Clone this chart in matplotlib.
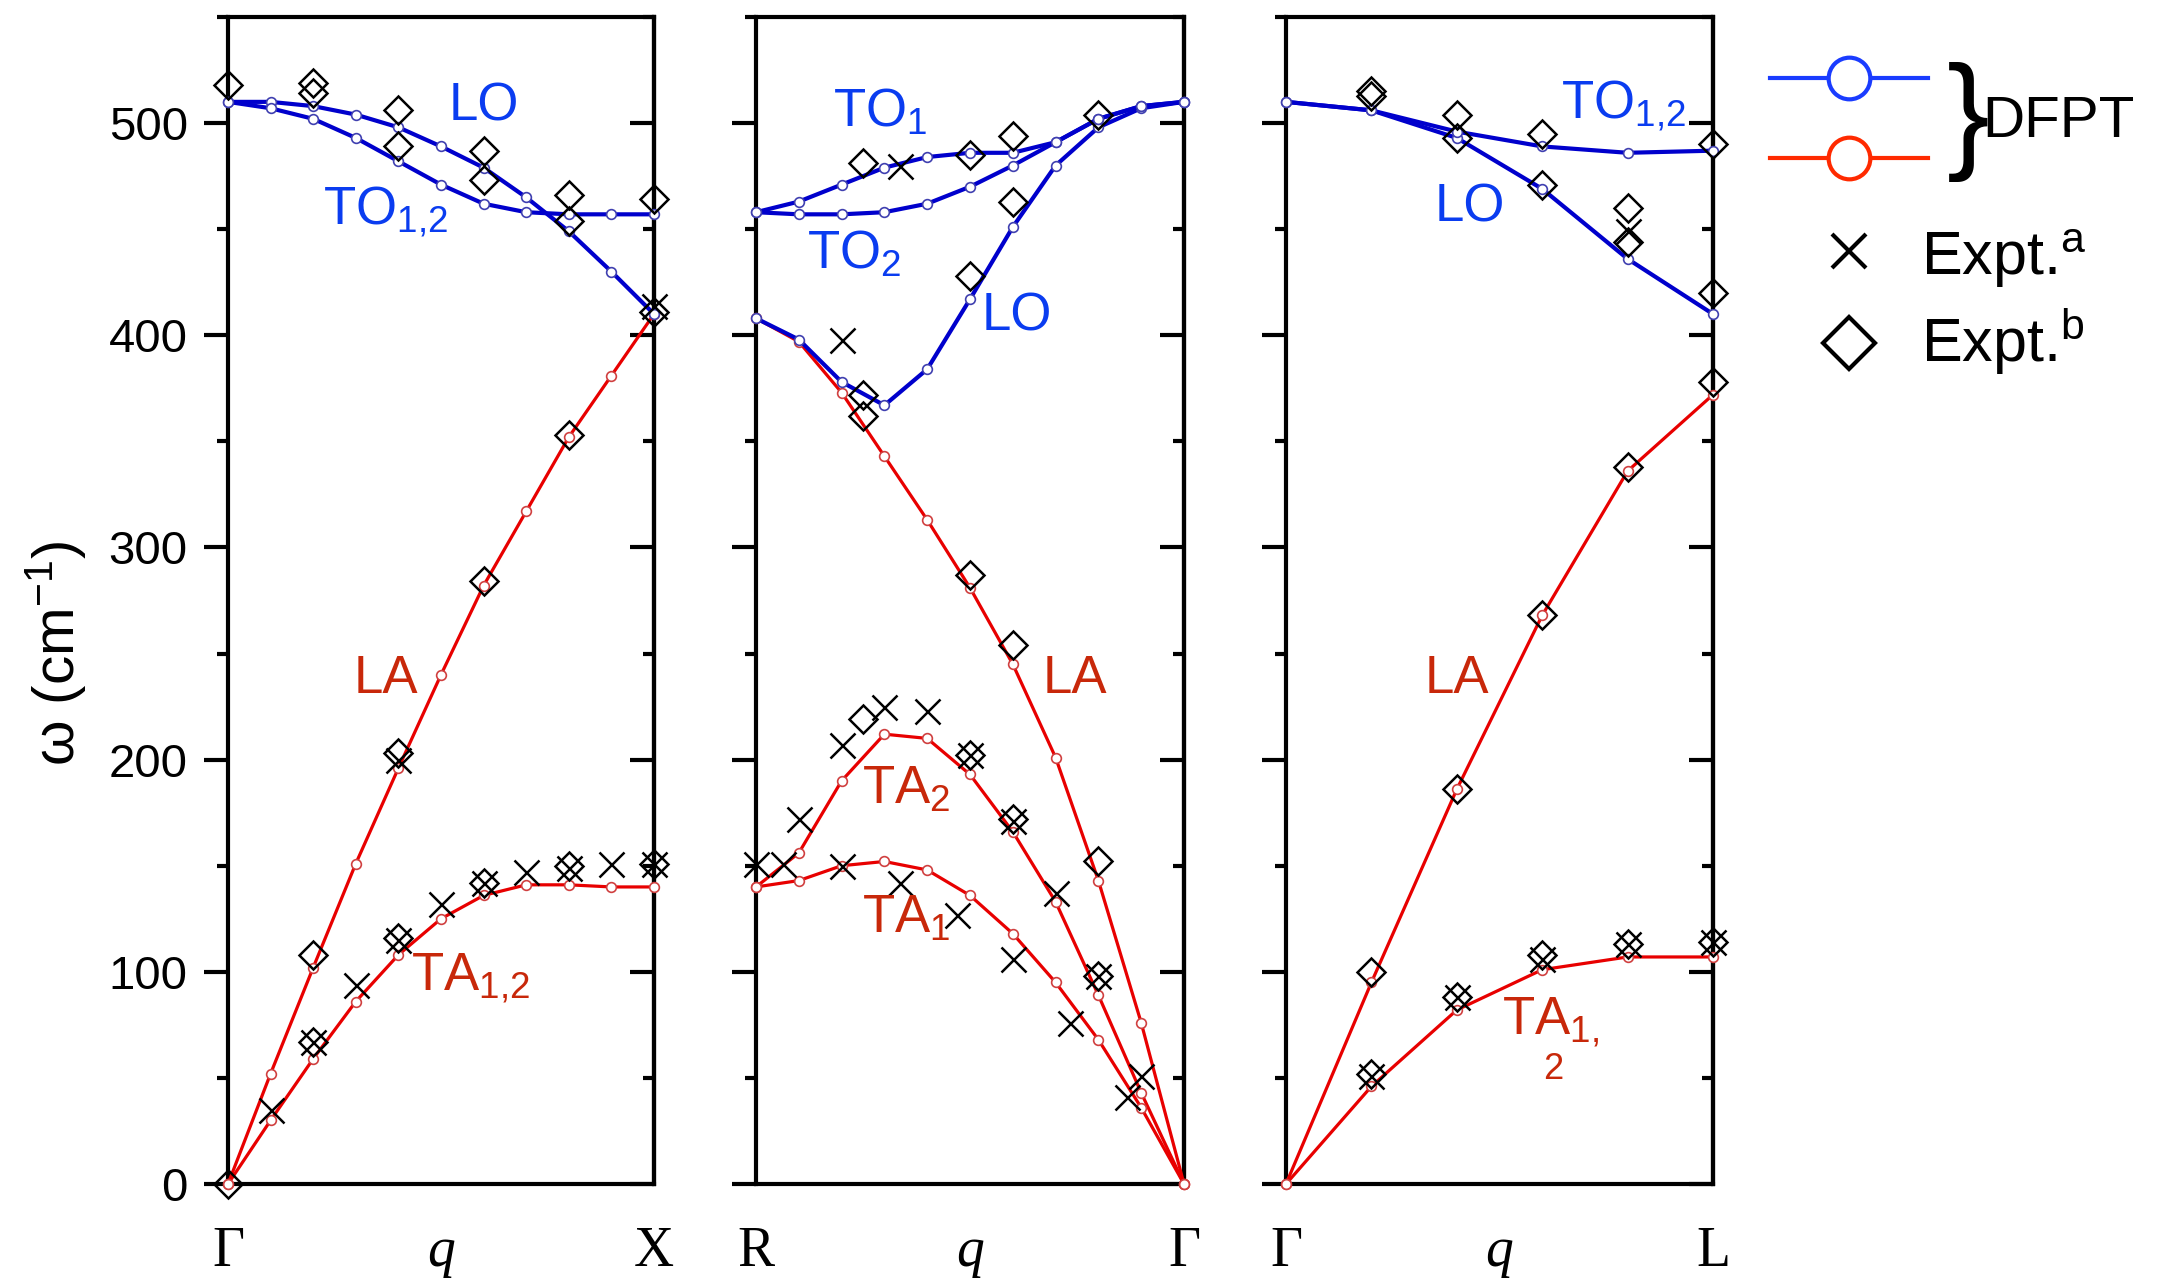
import numpy as np
import matplotlib
matplotlib.use('Agg')
import matplotlib.pyplot as plt
from matplotlib.ticker import MultipleLocator

plt.rcParams['font.family'] = ['Liberation Sans', 'DejaVu Sans']
plt.rcParams['mathtext.fontset'] = 'custom'
plt.rcParams['mathtext.rm'] = 'Liberation Sans'
plt.rcParams['mathtext.it'] = 'Liberation Sans:italic'

# q positions along each path (fraction of the segment)
q11 = [0.0, 0.1, 0.2, 0.3, 0.4, 0.5, 0.6, 0.7, 0.8, 0.9, 1.0]
q6 = [0.0, 0.2, 0.4, 0.6, 0.8, 1.0]

# Gamma -> X (DFPT)
gx_LO = [510, 510, 508, 504, 498, 489, 479, 465, 449, 430, 410]
gx_TO = [510, 507, 502, 493, 482, 471, 462, 458, 457, 457, 457]
gx_LA = [0, 52, 102, 151, 196, 240, 282, 317, 352, 381, 410]
gx_TA = [0, 30, 59, 86, 108, 125, 136, 141, 141, 140, 140]
# Gamma -> X (experiment)
gx_a_q = [0.1, 0.2, 0.3, 0.4, 0.5, 0.6, 0.7, 0.8, 0.9, 1.0, 0.4, 1.0]
gx_a_w = [35, 67, 94, 115, 132, 142, 147, 149, 151, 151, 200, 414]
gx_b_q = [0.0, 0.2, 0.2, 0.4, 0.4, 0.6, 0.6, 0.8, 1.0, 0.8, 0.0, 0.2, 0.2, 0.4, 0.4, 0.6, 0.6, 0.8, 0.8, 1.0, 1.0]
gx_b_w = [0, 108, 67, 203, 116, 284, 142, 150, 151, 353, 518, 519, 514, 506, 489, 487, 473, 466, 454, 464, 411]

# R -> Gamma (DFPT)
rg_TO1 = [458, 463, 471, 479, 484, 486, 486, 491, 502, 508, 510]
rg_TO2 = [458, 457, 457, 458, 462, 470, 480, 491, 502, 508, 510]
rg_LO = [408, 398, 378, 367, 384, 417, 451, 480, 498, 507, 510]
rg_LA = [408, 397, 373, 343, 313, 281, 245, 201, 143, 76, 0]
rg_TA2 = [140, 156, 190, 212, 210, 193, 166, 133, 89, 43, 0]
rg_TA1 = [140, 143, 150, 152, 148, 136, 118, 95, 68, 36, 0]
# R -> Gamma (experiment)
rg_a_q = [0.2, 0.336, 0.0, 0.064, 0.1, 0.2, 0.3, 0.4, 0.5, 0.6, 0.7, 0.8, 0.9, 0.866, 0.2, 0.336, 0.469, 0.6, 0.734]
rg_a_w = [398, 480, 151, 151, 172, 207, 225, 223, 202, 171, 137, 98, 51, 41, 150, 142, 127, 106, 76]
rg_b_q = [0.25, 0.5, 0.6, 0.8, 0.6, 0.5, 0.25, 0.25, 0.25, 0.5, 0.5, 0.6, 0.6, 0.8, 0.8]
rg_b_w = [481, 485, 494, 504, 463, 428, 372, 362, 219, 287, 202, 254, 172, 152, 98]

# Gamma -> L (DFPT)
gl_TO = [510, 506, 496, 489, 486, 487]
gl_LO = [510, 506, 493, 469, 436, 410]
gl_LA = [0, 95, 186, 268, 336, 372]
gl_TA = [0, 46, 82, 101, 107, 107]
# Gamma -> L (experiment)
gl_a_q = [0.2, 0.4, 0.6, 0.8, 1.0, 0.8]
gl_a_w = [51, 88, 106, 113, 114, 449]
gl_b_q = [0.2, 0.2, 0.4, 0.4, 0.6, 0.6, 0.8, 0.8, 1.0, 1.0, 1.0, 0.8, 0.2, 0.4, 0.6, 0.2, 0.4, 0.6, 0.8, 1.0]
gl_b_w = [515, 513, 504, 493, 495, 471, 460, 444, 490, 420, 378, 338, 100, 186, 268, 52, 88, 108, 113, 114]

BLUE = '#0000cc'
RED = '#e80000'
BLUE_TXT = '#0a3cf0'
RED_TXT = '#c8280a'

W, H = 2167, 1279
fig = plt.figure(figsize=(W / 100, H / 100), dpi=100)


def make_axes(x0, x1, y0=17, y1=1184):
    return fig.add_axes([x0 / W, 1 - y1 / H, (x1 - x0) / W, (y1 - y0) / H])


def setup(ax, xlabels, show_ylabels):
    ax.set_xlim(0, 1)
    ax.set_ylim(0, 550)
    for s in ax.spines.values():
        s.set_linewidth(3)
    ax.yaxis.set_major_locator(MultipleLocator(100))
    ax.yaxis.set_minor_locator(MultipleLocator(50))
    ax.tick_params(axis='y', which='major', direction='out', length=17, width=3,
                   labelsize=34, pad=12, labelleft=show_ylabels)
    ax.tick_params(axis='y', which='minor', direction='out', length=8, width=3)
    # right side ticks point inwards
    sec = ax.secondary_yaxis('right')
    sec.spines['right'].set_linewidth(3)
    sec.yaxis.set_major_locator(MultipleLocator(100))
    sec.yaxis.set_minor_locator(MultipleLocator(50))
    sec.tick_params(which='major', direction='in', length=17, width=3, labelright=False)
    sec.tick_params(which='minor', direction='in', length=8, width=3)
    ax.set_xticks([0, 0.5, 1])
    ax.set_xticklabels(xlabels, fontfamily='Liberation Serif', fontsize=40)
    ax.get_xticklabels()[1].set_style('italic')
    ax.tick_params(axis='x', length=0, pad=30)


def dfpt(ax, q, w, color, edge, lw):
    ax.plot(q, w, '-o', color=color, lw=lw, ms=7, mfc='white', mec=edge, mew=1.2,
            clip_on=False, zorder=3)


def expt(ax, qa, wa, qb, wb):
    ax.plot(qa, wa, 'x', ls='none', color='k', ms=18, mew=1.8, clip_on=False, zorder=5)
    ax.plot(qb, wb, 'D', ls='none', mfc='none', mec='k', ms=14, mew=1.8, clip_on=False, zorder=5)


def label(ax, x, y, s, color):
    ax.text(x, y, s, color=color, fontsize=38, ha='center', va='center', zorder=6)


# Gamma - X
ax1 = make_axes(228, 654)
setup(ax1, ['Γ', 'q', 'X'], True)
dfpt(ax1, q11, gx_LA, RED, '#d04040', 2.3)
dfpt(ax1, q11, gx_TA, RED, '#d04040', 2.3)
dfpt(ax1, q11, gx_LO, BLUE, '#4040b0', 3)
dfpt(ax1, q11, gx_TO, BLUE, '#4040b0', 3)
expt(ax1, gx_a_q, gx_a_w, gx_b_q, gx_b_w)
label(ax1, 0.60, 508, 'LO', BLUE_TXT)
label(ax1, 0.37, 458, r'TO$_{1{,}2}$', BLUE_TXT)
label(ax1, 0.37, 238, 'LA', RED_TXT)
label(ax1, 0.57, 97, r'TA$_{1{,}2}$', RED_TXT)

# R - Gamma
ax2 = make_axes(756, 1184)
setup(ax2, ['R', 'q', 'Γ'], False)
dfpt(ax2, q11, rg_LA, RED, '#d04040', 2.3)
dfpt(ax2, q11, rg_TA2, RED, '#d04040', 2.3)
dfpt(ax2, q11, rg_TA1, RED, '#d04040', 2.3)
dfpt(ax2, q11, rg_LO, BLUE, '#4040b0', 3)
dfpt(ax2, q11, rg_TO2, BLUE, '#4040b0', 3)
dfpt(ax2, q11, rg_TO1, BLUE, '#4040b0', 3)
expt(ax2, rg_a_q, rg_a_w, rg_b_q, rg_b_w)
label(ax2, 0.29, 505, r'TO$_{1}$', BLUE_TXT)
label(ax2, 0.23, 438, r'TO$_{2}$', BLUE_TXT)
label(ax2, 0.61, 409, 'LO', BLUE_TXT)
label(ax2, 0.745, 238, 'LA', RED_TXT)
label(ax2, 0.35, 186, r'TA$_{2}$', RED_TXT)
label(ax2, 0.35, 125, r'TA$_{1}$', RED_TXT)

# Gamma - L
ax3 = make_axes(1286, 1713)
setup(ax3, ['Γ', 'q', 'L'], False)
dfpt(ax3, q6, gl_LA, RED, '#d04040', 2.3)
dfpt(ax3, q6, gl_TA, RED, '#d04040', 2.3)
dfpt(ax3, q6, gl_LO, BLUE, '#4040b0', 3)
dfpt(ax3, q6, gl_TO, BLUE, '#4040b0', 3)
expt(ax3, gl_a_q, gl_a_w, gl_b_q, gl_b_w)
label(ax3, 0.79, 508, r'TO$_{1{,}2}$', BLUE_TXT)
label(ax3, 0.43, 460, 'LO', BLUE_TXT)
label(ax3, 0.40, 238, 'LA', RED_TXT)
label(ax3, 0.62, 76, r'TA$_{1{,}}$', RED_TXT)
ax3.text(0.625, 54, '2', color=RED_TXT, fontsize=26, ha='center', va='center')

fig.text(55 / W, 1 - 653 / H, r'ω (cm$^{-1}$)', rotation=90, fontsize=42,
         ha='center', va='center')

# legend drawn in pixel space on an overlay
leg = fig.add_axes([0, 0, 1, 1])
leg.set_xlim(0, W)
leg.set_ylim(H, 0)
leg.axis('off')
leg.plot([1770, 1928], [78, 78], color='#1a3cff', lw=3)
leg.plot([1849], [78], 'o', ms=30, mfc='white', mec='#1a3cff', mew=3)
leg.plot([1770, 1928], [158, 158], color='#ff2a00', lw=3)
leg.plot([1849], [158], 'o', ms=30, mfc='white', mec='#ff2a00', mew=3)
leg.text(1968, 122, '}', fontsize=92, ha='center', va='center')
leg.text(1982, 137, 'DFPT', fontsize=42, ha='left', va='baseline')
leg.plot([1849], [251], 'x', color='k', ms=25, mew=3)
leg.plot([1849], [343], 'D', mfc='none', mec='k', ms=26, mew=3)
leg.text(1921, 275, r'Expt.$^{\mathregular{a}}$', fontsize=44, ha='left', va='baseline')
leg.text(1921, 362, r'Expt.$^{\mathregular{b}}$', fontsize=44, ha='left', va='baseline')

fig.savefig('out.png', dpi=100)
